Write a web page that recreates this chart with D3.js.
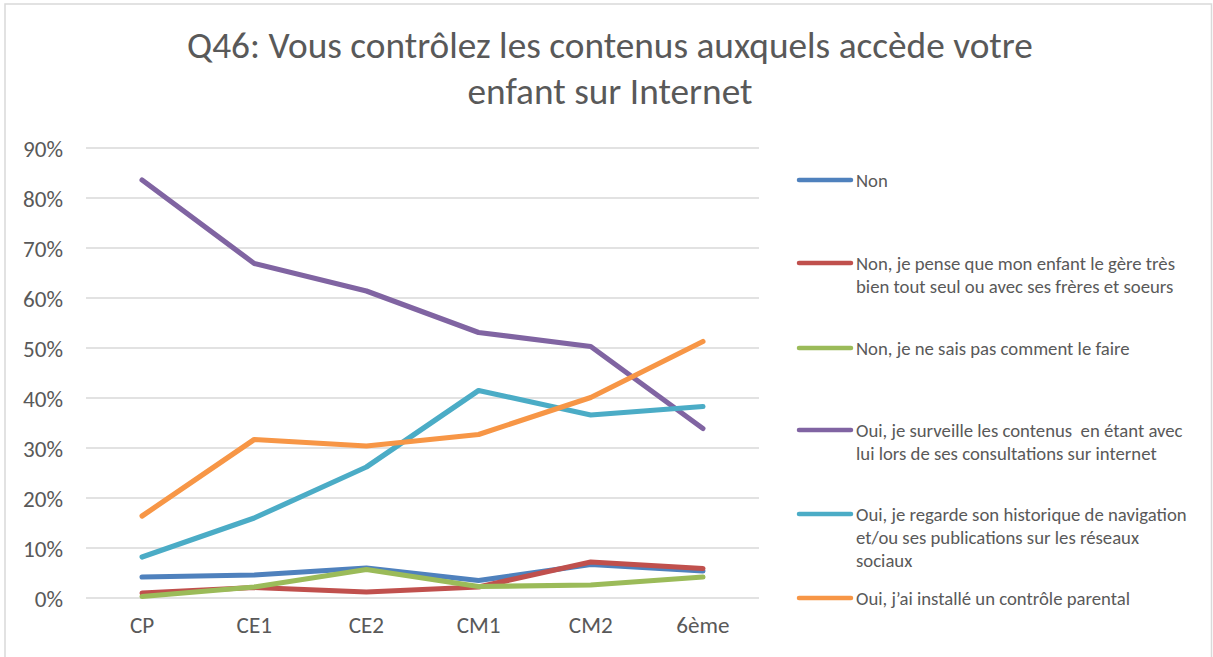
<!DOCTYPE html>
<html>
<head>
<meta charset="utf-8">
<script src="https://cdn.jsdelivr.net/npm/d3@7"></script>
<style>
  html, body { margin: 0; padding: 0; background: #fff; }
  svg { display: block; }
  text { font-family: Carlito, Lato, "Open Sans", sans-serif; fill: #595959; }
</style>
</head>
<body>
<svg id="chart" width="1213" height="657"></svg>
<script>
// Grade levels along the x axis
const categories = ["CP", "CE1", "CE2", "CM1", "CM2", "6ème"];

// Share of answers (%) per grade, one array per answer
const nonValues              = [4.2, 4.6, 6.0, 3.5, 6.7, 5.4];
const nonAutonomeValues      = [1.0, 2.1, 1.2, 2.2, 7.2, 5.9];
const nonSaisPasValues       = [0.3, 2.2, 5.7, 2.3, 2.6, 4.2];
const surveilleValues        = [83.6, 66.9, 61.4, 53.1, 50.3, 33.9];
const historiqueValues       = [8.2, 16.0, 26.2, 41.5, 36.6, 38.3];
const controleParentalValues = [16.4, 31.7, 30.4, 32.7, 40.1, 51.3];

// Legend labels, already split into lines
const legendLabels = [
  ["Non"],
  ["Non, je pense que mon enfant le gère très", "bien tout seul ou avec ses frères et soeurs"],
  ["Non, je ne sais pas comment le faire"],
  ["Oui, je surveille les contenus  en étant avec", "lui lors de ses consultations sur internet"],
  ["Oui, je regarde son historique de navigation", "et/ou ses publications sur les réseaux", "sociaux"],
  ["Oui, j’ai installé un contrôle parental"]
];

const yTicks = [0, 10, 20, 30, 40, 50, 60, 70, 80, 90];

const titleLines = ["Q46: Vous contrôlez les contenus auxquels accède votre", "enfant sur Internet"];

const colors = ["#4F81BD", "#C0504D", "#9BBB59", "#8064A2", "#4BACC6", "#F79646"];

const series = [nonValues, nonAutonomeValues, nonSaisPasValues,
                surveilleValues, historiqueValues, controleParentalValues]
  .map((values, i) => ({ values, label: legendLabels[i], color: colors[i] }));

const svg = d3.select("#chart");
const W = 1213, H = 657;

// Pick a font size so that a sample string spans the wanted width
function fittedSize(sample, baseSize, width) {
  const t = svg.append("text").style("font-size", baseSize + "px")
    .style("white-space", "pre").text(sample);
  const w = t.node().getComputedTextLength();
  t.remove();
  return baseSize * width / w;
}
const titleSize  = fittedSize(titleLines[0], 30, 846);
const legendSize = fittedSize("Oui, je regarde son historique de navigation", 15, 331);
const tickSize   = fittedSize("90%", 18, 40);

// Outer frame
svg.append("rect")
  .attr("x", 5).attr("y", 4)
  .attr("width", W - 5 - 1.5).attr("height", H + 10)
  .attr("fill", "#fff")
  .attr("stroke", "#d9d9d9").attr("stroke-width", 1.5);

// Title
svg.append("g").selectAll("text")
  .data(titleLines)
  .join("text")
  .attr("x", 610)
  .attr("y", (d, i) => 58 + i * 46)
  .attr("text-anchor", "middle")
  .style("font-size", titleSize + "px")
  .text(d => d);

// Scales
const x = d3.scaleBand().domain(categories).range([86, 759]).padding(0);
const y = d3.scaleLinear().domain([0, 90]).range([598, 148]);
const cx = c => x(c) + x.bandwidth() / 2;

// Horizontal gridlines
svg.append("g").selectAll("line")
  .data(yTicks)
  .join("line")
  .attr("x1", 86).attr("x2", 759)
  .attr("y1", d => y(d)).attr("y2", d => y(d))
  .attr("stroke", "#d9d9d9").attr("stroke-width", 1.3);

// Y axis labels
const yAxis = d3.axisLeft(y).tickValues(yTicks).tickFormat(d => d + "%").tickSize(0).tickPadding(0);
const gy = svg.append("g").attr("transform", "translate(63,0)").call(yAxis);
gy.select(".domain").remove();
gy.selectAll("text").style("font-size", tickSize + "px").attr("fill", "#595959").attr("dy", "0.35em");

// X axis labels
const xAxis = d3.axisBottom(x).tickSize(0).tickPadding(0);
const gx = svg.append("g").attr("transform", "translate(0,617)").call(xAxis);
gx.select(".domain").remove();
gx.selectAll("text").style("font-size", tickSize + "px").attr("fill", "#595959").attr("dy", "0.71em");

// Series lines
const line = d3.line()
  .x((d, i) => cx(categories[i]))
  .y(d => y(d));

svg.append("g").selectAll("path")
  .data(series)
  .join("path")
  .attr("d", d => line(d.values))
  .attr("fill", "none")
  .attr("stroke", d => d.color)
  .attr("stroke-width", 5.2)
  .attr("stroke-linejoin", "round")
  .attr("stroke-linecap", "round");

// Legend
const legendY = [180, 263, 348, 430, 514, 598];
const lg = svg.append("g").selectAll("g")
  .data(series)
  .join("g")
  .attr("transform", (d, i) => `translate(0,${legendY[i]})`);

lg.append("line")
  .attr("x1", 799).attr("x2", 851)
  .attr("y1", 0).attr("y2", 0)
  .attr("stroke", d => d.color)
  .attr("stroke-width", 4.5)
  .attr("stroke-linecap", "round");

lg.append("text")
  .style("font-size", legendSize + "px")
  .style("white-space", "pre")
  .selectAll("tspan")
  .data(d => d.label)
  .join("tspan")
  .attr("x", 856)
  .attr("y", (d, i) => i * 23)
  .attr("dy", "0.35em")
  .text(d => d);
</script>
</body>
</html>
